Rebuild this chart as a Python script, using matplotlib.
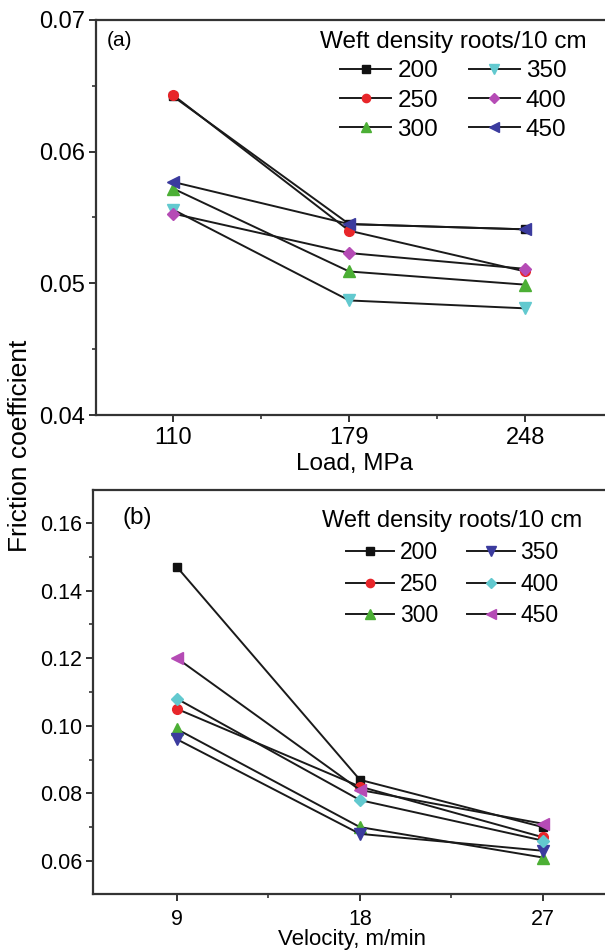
import matplotlib
matplotlib.use("Agg")
import matplotlib.pyplot as plt
from matplotlib.ticker import MultipleLocator, FormatStrFormatter, FixedLocator

plt.rcParams['font.family'] = ['Liberation Sans', 'DejaVu Sans']

# ---------------- data ----------------
densities = ["200", "250", "300", "350", "400", "450"]

load = [110, 179, 248]
fric_load = {
    "200": [0.0642, 0.0545, 0.0541],
    "250": [0.0643, 0.0540, 0.0509],
    "300": [0.0572, 0.0509, 0.0499],
    "350": [0.0556, 0.0487, 0.0481],
    "400": [0.0553, 0.0523, 0.0511],
    "450": [0.0577, 0.0545, 0.0541],
}

velocity = [9, 18, 27]
fric_vel = {
    "200": [0.147, 0.084, 0.070],
    "250": [0.105, 0.082, 0.067],
    "300": [0.099, 0.070, 0.061],
    "350": [0.096, 0.068, 0.063],
    "400": [0.108, 0.078, 0.066],
    "450": [0.120, 0.081, 0.071],
}

# ---------------- styles ----------------
BLACK = "#111111"
RED = "#e8262a"
GREEN = "#4caf35"
CYAN = "#62c9cf"
MAGENTA = "#b54bb5"
NAVY = "#3b3b9e"

style_a = {
    "200": ("s", BLACK), "250": ("o", RED), "300": ("^", GREEN),
    "350": ("v", CYAN), "400": ("D", MAGENTA), "450": ("<", NAVY),
}
style_b = {
    "200": ("s", BLACK), "250": ("o", RED), "300": ("^", GREEN),
    "350": ("v", NAVY), "400": ("D", CYAN), "450": ("<", MAGENTA),
}
msize = {"s": 6, "o": 7, "^": 8, "v": 8, "D": 6, "<": 8}

W, H = 605, 951
fig = plt.figure(figsize=(W / 100, H / 100), dpi=100)

def px_axes(l, t, r, b):
    return fig.add_axes([l / W, 1 - b / H, (r - l) / W, (b - t) / H])

ax1 = px_axes(96, 20, 612, 415)
ax2 = px_axes(93, 490, 612, 894)

SPINE = "#333333"

def draw(ax, xs, data, styles, xlim, ylim, xticks, major_y, minor_y, fs_tick, xpad):
    for d in densities:
        m, c = styles[d]
        ax.plot(xs, data[d], color="#1a1a1a", lw=1.4, marker=m, ms=msize[m],
                mfc=c, mec=c, label=d, zorder=3)
    ax.set_xlim(*xlim)
    ax.set_ylim(*ylim)
    ax.xaxis.set_major_locator(FixedLocator(xticks))
    mids = [(xticks[i] + xticks[i + 1]) / 2 for i in range(len(xticks) - 1)]
    ax.xaxis.set_minor_locator(FixedLocator(mids))
    ax.set_xticklabels([str(x) for x in xticks])
    ax.yaxis.set_major_locator(MultipleLocator(major_y))
    ax.yaxis.set_minor_locator(MultipleLocator(minor_y))
    ax.yaxis.set_major_formatter(FormatStrFormatter("%.2f"))
    for s in ax.spines.values():
        s.set_color(SPINE)
        s.set_linewidth(1.6)
    ax.tick_params(which="major", direction="out", length=5, width=1.4,
                   color=SPINE, labelsize=fs_tick, pad=3)
    ax.tick_params(axis="x", which="major", pad=xpad)
    ax.tick_params(which="minor", direction="out", length=3, width=1.2,
                   color=SPINE)
    ax.tick_params(axis="x", which="both", top=False)
    ax.tick_params(axis="y", which="both", right=False)

draw(ax1, load, fric_load, style_a, (79.8, 282.0), (0.04, 0.07), load,
     0.01, 0.005, 17, 3.5)
draw(ax2, velocity, fric_vel, style_b, (4.87, 30.4), (0.0502, 0.1698), velocity,
     0.02, 0.01, 15.5, 6)

leg_kw = dict(ncol=2, frameon=False, loc="upper right", borderpad=0,
              borderaxespad=0, handlelength=2.1, handletextpad=0.25,
              columnspacing=1.25, markerscale=0.85)
ax1.legend(title="Weft density roots/10 cm", bbox_to_anchor=(0.951, 0.972),
           fontsize=17.5, title_fontsize=17.5, labelspacing=0.3, **leg_kw)
ax2.legend(title="Weft density roots/10 cm", bbox_to_anchor=(0.943, 0.950),
           fontsize=16.5, title_fontsize=17, labelspacing=0.38, **leg_kw)

fig.text(107 / W, 1 - 40 / H, "(a)", fontsize=15, ha="left", va="center")
fig.text(122 / W, 1 - 518 / H, "(b)", fontsize=17.5, ha="left", va="center")

fig.text(354 / W, 1 - 464 / H, "Load, MPa", fontsize=17.5, ha="center", va="center")
fig.text(352 / W, 1 - 940 / H, "Velocity, m/min", fontsize=16, ha="center", va="center")
fig.text(20 / W, 1 - 446 / H, "Friction coefficient", fontsize=19,
         rotation=90, ha="center", va="center")

fig.savefig("out.png", dpi=100)
